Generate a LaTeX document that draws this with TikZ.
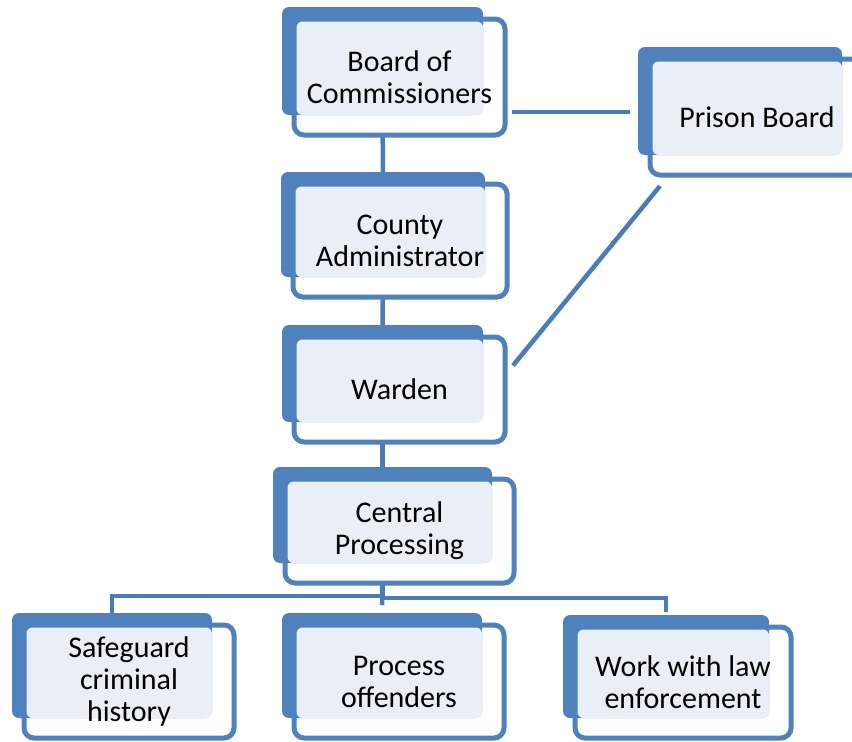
\documentclass[tikz,border=0pt]{standalone}
\usepackage{fontspec}
\setmainfont{Carlito}
\usetikzlibrary{calc}
\definecolor{boxblue}{RGB}{79,129,189}
\definecolor{linkblue}{RGB}{74,124,185}
\definecolor{boxlight}{RGB}{234,239,247}
\pgfdeclarelayer{bg}
\pgfsetlayers{bg,main}
\newcommand{\orgunit}[6]{%
	\node[framebox,minimum width={#4-#2+10},minimum height={#5-#3+8}] (#1-f) at ({(#2+#4)/2+17},{(#3+#5)/2+16}) {};
	\node[backbox,minimum width={#4-#2},minimum height={#5-#3}] (#1) at ({(#2+#4)/2},{(#3+#5)/2}) {};
	\fill[boxlight,rounded corners=6pt] ([shift={(2.5,2.5)}]#1-f.north west) rectangle (#1.south east);
	\node[boxtext] (#1-t) at (#1-f) {#6};
}
\begin{document}
\begin{tikzpicture}[x=1pt,y=-1pt,
		backbox/.style={fill=boxblue,rounded corners=7pt,inner sep=0pt,outer sep=0pt},
		framebox/.style={draw=boxblue,fill=white,line width=5pt,rounded corners=10pt,inner sep=0pt,outer sep=0pt},
		boxtext/.style={align=center,font=\fontsize{30}{32}\selectfont,inner sep=0pt},
		link/.style={draw=linkblue,line width=4.5pt,preaction={draw=black!40,opacity=0.35,transform canvas={shift={(1pt,-1.5pt)}}}}]
	\useasboundingbox (0,0) rectangle (852,742);
	\orgunit{board}{282}{7}{483}{115}{Board of\\Commissioners}
	\orgunit{prison}{638}{47}{842}{155}{Prison Board}
	\orgunit{county}{281}{172}{485}{277}{County\\Administrator}
	\orgunit{warden}{282}{325}{483}{422}{Warden}
	\orgunit{central}{273}{467}{492}{563}{Central\\Processing}
	\orgunit{safe}{12}{613}{212}{718}{Safeguard\\criminal\\history}
	\orgunit{proc}{282}{613}{482}{718}{Process\\offenders}
	\orgunit{work}{563}{615}{769}{718}{Work with law\\enforcement}
	\begin{pgfonlayer}{bg}
		\draw[link] (board.south) -- (county.north);
		\draw[link] (county.south) -- (warden.north);
		\draw[link] (warden.south) -- (central.north);
		\draw[link] (central.south) -- ++(0,33) -| (safe.north);
		\draw[link] (central.south) -- ++(0,35) -| ([yshift=3pt]work.north);
		\draw[link] (central.south) -- ([yshift=8pt]proc.north);
	\end{pgfonlayer}
	\draw[link] ([shift={(7,35)}]board-f.east) coordinate (bp) -- ($(prison.west |- bp)+(-8,0)$);
	\draw[link] ([shift={(8,-24)}]warden-f.east) -- ([shift={(10,11)}]prison-f.south west);
\end{tikzpicture}
\end{document}
